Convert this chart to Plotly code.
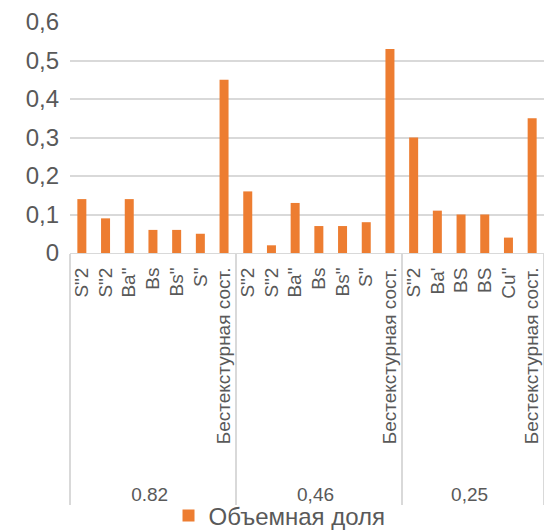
import plotly.graph_objects as go

# Sample groups (outer axis level) and phase labels (inner axis level)
groups = ["0.82"] * 7 + ["0,46"] * 7 + ["0,25"] * 6
phases = [
    'S"2', 'S"2', 'Ba"', 'Bs', 'Bs"', 'S"', "Бестекстурная сост.",
    'S"2', 'S"2', 'Ba"', 'Bs', 'Bs"', 'S"', "Бестекстурная сост.",
    'S"2', "Ba'", "BS", "BS", 'Cu"', "Бестекстурная сост.",
]
volume_fraction = [
    0.14, 0.09, 0.14, 0.06, 0.06, 0.05, 0.45,
    0.16, 0.02, 0.13, 0.07, 0.07, 0.08, 0.53,
    0.30, 0.11, 0.10, 0.10, 0.04, 0.35,
]
y_ticks = [0, 0.1, 0.2, 0.3, 0.4, 0.5, 0.6]

TEXT = "#595959"
GRID = "#D9D9D9"
FONT = "Liberation Sans, Arial, sans-serif"

# Repeated phase names inside one sample would collapse into a single
# category, so each label gets a unique invisible suffix (zero-width spaces)
# and leading no-break spaces that leave room above the sample labels.
seen = {}
inner = []
for g, p in zip(groups, phases):
    n = seen.get(p, 0)
    seen[p] = n + 1
    inner.append("\u00a0" * 5 + p + "\u200b" * n)

fig = go.Figure(
    go.Bar(
        x=[groups, inner],
        y=volume_fraction,
        name="Объемная доля",
        marker=dict(color="#ED7D31", line=dict(width=0)),
    )
)

fig.update_layout(
    width=544,
    height=532,
    margin=dict(l=70, r=0, t=22, b=279, autoexpand=False),
    paper_bgcolor="white",
    plot_bgcolor="white",
    separators=", ",
    bargap=0.62,
    font=dict(family=FONT, color=TEXT),
    showlegend=True,
    legend=dict(
        orientation="h",
        x=0.442,
        xanchor="center",
        y=-1.1385,
        yanchor="middle",
        font=dict(size=24, color=TEXT),
        itemwidth=30,
        bgcolor="rgba(0,0,0,0)",
    ),
)

fig.update_xaxes(
    type="multicategory",
    tickangle=-90,
    tickfont=dict(size=19, color=TEXT),
    showline=True,
    linecolor=GRID,
    showdividers=True,
    dividercolor=GRID,
    dividerwidth=1.5,
    ticks="",
    showgrid=False,
    ticklabelstandoff=6,
)

fig.update_yaxes(
    range=[0, 0.6],
    tickvals=y_ticks,
    tickfont=dict(size=24, color=TEXT),
    showgrid=True,
    gridcolor=GRID,
    gridwidth=1.5,
    zeroline=False,
    showline=False,
    ticks="",
    ticklabelstandoff=10,
)

fig.write_html("out.html")
